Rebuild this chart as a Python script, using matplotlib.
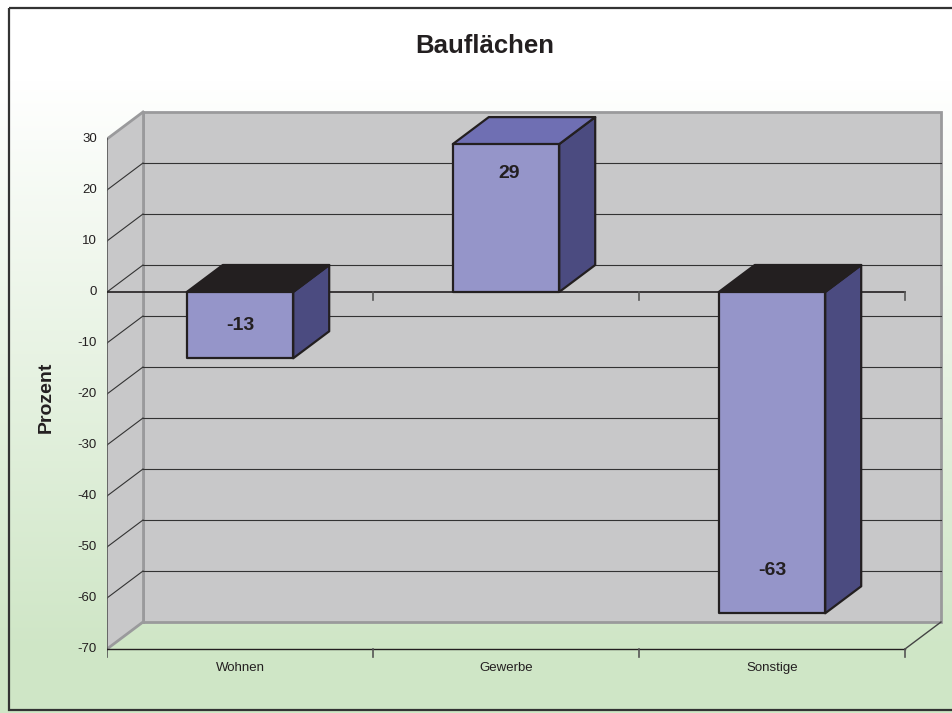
import numpy as np
import matplotlib.pyplot as plt
from matplotlib.patches import Polygon, Rectangle
from matplotlib.colors import to_rgb

plt.rcParams['font.family'] = ['Liberation Sans', 'DejaVu Sans']

# data
categories = ['Wohnen', 'Gewerbe', 'Sonstige']
values = [-13, 29, -63]
yticks = list(range(-70, 31, 10))
title = 'Bauflächen'
ylabel = 'Prozent'

TXT = '#231f20'
FRONT = '#9595c9'
SIDE = '#4b4b80'
TOP_POS = '#6f6fb3'
TOP_NEG = '#231f20'
WALL = '#c8c8c9'
WALL_EDGE = '#9a9a9c'

fig = plt.figure(figsize=(9.53, 7.13), dpi=100)

# background gradient + frame
bg = fig.add_axes([0, 0, 1, 1])
bg.set_xlim(0, 953)
bg.set_ylim(713, 0)
bg.axis('off')
rows = np.arange(713)
t = np.clip((rows - 80) / 570.0, 0, 1)[:, None]
c0 = np.array(to_rgb('#ffffff'))
c1 = np.array(to_rgb('#cfe6c6'))
grad = (c0 * (1 - t) + c1 * t)[:, None, :].repeat(2, axis=1)
bg.imshow(grad, extent=[0, 953, 713, 0], aspect='auto', zorder=0)
bg.add_patch(Rectangle((9, 8), 960, 702, fill=False, ec='#333333', lw=1.6, zorder=1))

# main axes (front plane: x 0..3 categories, y -70..30)
ax = fig.add_axes([0.11228, 0.07546, 0.87922, 0.77966])
ax.set_xlim(0, 3.15)
ax.set_ylim(-72, 37)
ax.axis('off')
ax.patch.set_alpha(0)

DX = 36 / 266
DY = 27 / 5.1
ymin, ymax = yticks[0], yticks[-1]
n = len(categories)

# walls
ax.add_patch(Polygon([(DX, ymin + DY), (n + DX, ymin + DY), (n + DX, ymax + DY), (DX, ymax + DY)],
                     closed=True, fc=WALL, ec=WALL_EDGE, lw=2, zorder=1))
ax.add_patch(Polygon([(0, ymin), (DX, ymin + DY), (DX, ymax + DY), (0, ymax)],
                     closed=True, fc=WALL, ec='none', lw=0, zorder=1))
ax.plot([0, DX], [ymax, ymax + DY], color=WALL_EDGE, lw=2, zorder=2)
ax.plot([0, DX], [ymin, ymin + DY], color=WALL_EDGE, lw=2, zorder=2)
ax.plot([DX, DX], [ymin + DY, ymax + DY], color=WALL_EDGE, lw=2, zorder=2)

# gridlines
for v in yticks[1:-1]:
    ax.plot([DX, n + DX], [v + DY, v + DY], color='#333333', lw=0.8, zorder=2)
    ax.plot([0, DX], [v, v + DY], color='#333333', lw=0.8, zorder=2)

# front y axis and ticks
tick_y = 1.5
ax.plot([0, 0], [ymin - tick_y, ymax], color='#555555', lw=1.2, zorder=3)
for v in yticks:
    ax.plot([-0.024, 0], [v, v], color='#555555', lw=1.2, zorder=3)
    ax.text(-0.038, v, str(v), ha='right', va='center', fontsize=9.5, color=TXT)

# category axis at floor and at zero
ax.plot([0, n], [ymin, ymin], color='#231f20', lw=1.0, zorder=3)
ax.plot([n, n + DX], [ymin, ymin + DY], color='#444444', lw=1.0, zorder=3)
ax.plot([0, n], [0, 0], color='#231f20', lw=1.2, zorder=3)
for i in range(1, n + 1):
    ax.plot([i, i], [ymin, ymin - tick_y], color='#555555', lw=1.2, zorder=3)
    ax.plot([i, i], [0, -tick_y], color='#555555', lw=1.2, zorder=3)
for i, c in enumerate(categories):
    ax.text(i + 0.5, ymin - 3.7, c, ha='center', va='center', fontsize=9.5, color=TXT)

# bars
bw = 0.4
label_shift = {0: 0.5, 1: 0.8, 2: 0.868}
for i, v in enumerate(values):
    x0 = i + 0.5 - bw / 2
    x1 = x0 + bw
    lo, hi = min(0, v), max(0, v)
    ec = '#231f20'
    ax.add_patch(Polygon([(x1, lo), (x1 + DX, lo + DY), (x1 + DX, hi + DY), (x1, hi)],
                         closed=True, fc=SIDE, ec=ec, lw=1.6, joinstyle='round', zorder=5))
    ax.add_patch(Polygon([(x0, hi), (x0 + DX, hi + DY), (x1 + DX, hi + DY), (x1, hi)],
                         closed=True, fc=TOP_POS if v > 0 else TOP_NEG, ec=ec, lw=1.6,
                         joinstyle='round', zorder=5))
    ax.add_patch(Rectangle((x0, lo), bw, hi - lo, fc=FRONT, ec=ec, lw=1.6,
                           joinstyle='round', zorder=6))
    ax.text(i + 0.5 + (0.01 if v > 0 else 0), v * label_shift[i], str(v), ha='center', va='center',
            fontsize=14, fontweight='bold', color=TXT, zorder=7)

# titles
fig.text(485 / 953, 1 - 46 / 713, title, ha='center', va='center', fontsize=18.5,
         fontweight='bold', color=TXT)
fig.text(46 / 953, 1 - 397 / 713, ylabel, ha='center', va='center', rotation=90,
         fontsize=14, fontweight='bold', color=TXT)

fig.savefig('out.png', dpi=100)
